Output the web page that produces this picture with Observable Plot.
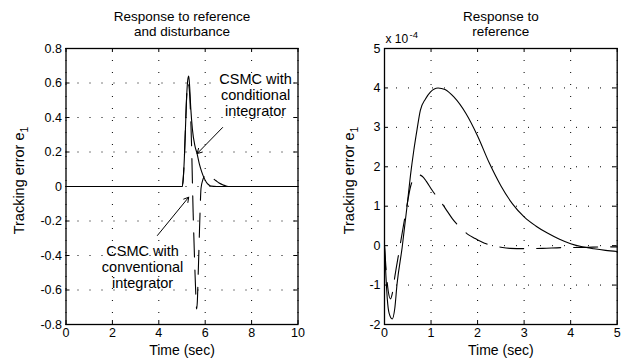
<!DOCTYPE html>
<html><head><meta charset="utf-8">
<script src="https://cdn.jsdelivr.net/npm/d3@7"></script>
<script src="https://cdn.jsdelivr.net/npm/@observablehq/plot@0.6"></script>
<style>
body{margin:0;background:#fff;}
#wrap{display:flex;width:621px;height:358px;overflow:hidden;}
svg{display:block;flex:none;}
</style></head><body><div id="wrap"></div>
<script>
const FONT = "'Liberation Sans', Arial, Helvetica, sans-serif";

// ---------- Left panel: response to reference and disturbance ----------
const leftTitle = "Response to reference\nand disturbance";
const leftXTicks = [0, 2, 4, 6, 8, 10];
const leftYTicks = [-0.8, -0.6, -0.4, -0.2, 0, 0.2, 0.4, 0.6, 0.8];
const leftYTickLabels = ["-0.8", "-0.6", "-0.4", "-0.2", "0", "0.2", "0.4", "0.6", "0.8"];
// CSMC with conditional integrator (solid)
const leftTimeCond = [0, 5.0, 5.05, 5.1, 5.15, 5.2, 5.25, 5.29, 5.33, 5.38, 5.45, 5.55, 5.65, 5.75, 5.85, 5.95, 6.05, 6.15, 6.25, 6.5, 10];
const leftErrCond  = [0, 0, 0.04, 0.16, 0.34, 0.52, 0.62, 0.64, 0.58, 0.45, 0.33, 0.24, 0.19, 0.13, 0.085, 0.05, 0.025, 0.01, 0.002, 0, 0];
// CSMC with conventional integrator (dashed)
const leftTimeConv = [0, 5.0, 5.05, 5.1, 5.15, 5.2, 5.25, 5.3, 5.36, 5.42, 5.45, 5.48, 5.52, 5.56, 5.6, 5.63, 5.66, 5.7, 5.74, 5.78, 5.82, 5.9, 6.0, 6.1, 6.2, 6.3, 6.4, 6.5, 6.6, 6.8, 7.0, 10];
const leftErrConv  = [0, 0, 0.04, 0.16, 0.34, 0.52, 0.6, 0.58, 0.45, 0.2, 0.02, -0.15, -0.33, -0.5, -0.64, -0.71, -0.67, -0.5, -0.32, -0.14, -0.01, 0.04, 0.065, 0.072, 0.065, 0.052, 0.04, 0.03, 0.02, 0.008, 0, 0];
// annotations (data units)
const annotCondText = "CSMC with\nconditional\nintegrator";
const annotCondPos = [8.17, 0.409];
const annotConvText = "CSMC with\nconventional\nintegrator";
const annotConvPos = [3.3, -0.588];
const arrowCond = [6.75, 0.342, 5.655, 0.191];
const arrowConv = [3.94, -0.284, 5.29, -0.062];

// ---------- Right panel: response to reference (x 10^-4) ----------
const rightTitle = "Response to\nreference";
const rightXTicks = [0, 1, 2, 3, 4, 5];
const rightYTicks = [-2, -1, 0, 1, 2, 3, 4, 5];
const rightYTickLabels = ["-2", "-1", "0", "1", "2", "3", "4", "5"];
const rightExponentBase = "x 10";
const rightExponent = "-4";
const rightTimeSolid = [0, 0.03, 0.06, 0.1, 0.165, 0.22, 0.27, 0.38, 0.49, 0.56, 0.63, 0.7, 0.77, 0.88, 0.99, 1.15, 1.3, 1.49, 1.75, 2.0, 2.25, 2.5, 2.75, 3.0, 3.25, 3.5, 3.75, 4.0, 4.25, 4.5, 4.75, 5.0];
const rightErrSolid  = [0, -0.75, -1.35, -1.72, -1.86, -1.6, -0.97, -0.04, 1.06, 1.8, 2.42, 2.95, 3.43, 3.72, 3.9, 4.0, 3.96, 3.77, 3.35, 2.78, 2.1, 1.52, 1.06, 0.73, 0.5, 0.32, 0.17, 0.05, -0.03, -0.08, -0.12, -0.15];
const rightTimeDash = [0, 0.04, 0.08, 0.13, 0.17, 0.215, 0.3, 0.4, 0.48, 0.56, 0.64, 0.72, 0.81, 0.9, 1.02, 1.13, 1.24, 1.35, 1.46, 1.57, 1.67, 1.8, 1.95, 2.06, 2.2, 2.35, 2.5, 2.7, 3.0, 3.4, 3.8, 4.3, 4.7, 5.0];
const rightErrDash  = [0, -0.7, -1.15, -1.35, -1.2, -0.84, -0.24, 0.46, 1.0, 1.5, 1.72, 1.8, 1.76, 1.63, 1.41, 1.23, 1.06, 0.87, 0.68, 0.53, 0.41, 0.28, 0.18, 0.11, 0.04, 0.0, -0.04, -0.07, -0.075, -0.07, -0.05, -0.045, -0.03, -0.03];

const toRows = (ts, vs) => ts.map((t, i) => ({t, v: vs[i]}));

function panel(o) {
  const height = 358, mt = 48, mb = 34;
  const innerH = height - mt - mb;
  const innerW = o.width - o.ml - o.mr;
  const tk = 4;
  const black = "#000";
  const marks = [
    Plot.gridX(o.xTicks, {stroke: black, strokeOpacity: 1, strokeWidth: 1, strokeDasharray: "1,11"}),
    Plot.gridY(o.yTicks, {stroke: black, strokeOpacity: 1, strokeWidth: 1, strokeDasharray: "1,11"}),
    Plot.tickX(o.xTicks, {x: d => d, insetBottom: innerH - tk, stroke: black}),
    Plot.tickX(o.xTicks, {x: d => d, insetTop: innerH - tk, stroke: black}),
    Plot.tickY(o.yTicks, {y: d => d, insetRight: innerW - tk, stroke: black}),
    Plot.tickY(o.yTicks, {y: d => d, insetLeft: innerW - tk, stroke: black}),
    Plot.line(o.solid, {x: "t", y: "v", stroke: black, strokeWidth: 1.1, curve: "monotone-x"}),
    Plot.line(o.dashed, {x: "t", y: "v", stroke: black, strokeWidth: 1.1, curve: "monotone-x", strokeDasharray: "24,13"}),
    Plot.frame({stroke: black, strokeWidth: 1.3}),
    Plot.axisX(o.xTicks, {tickSize: 0, tickPadding: 4, label: null, fill: black, fontSize: 12.5, tickFormat: d => String(d)}),
    Plot.axisY(o.yTicks, {tickSize: 0, tickPadding: 4, label: null, fill: black, fontSize: 12.5, tickFormat: (d, i) => o.yLabels[i]}),
    Plot.text([o.title], {frameAnchor: "top", dy: -13, lineAnchor: "bottom", lineHeight: 1.11, fontSize: 13.5, fill: black}),
    Plot.text(["Time (sec)"], {frameAnchor: "bottom", dy: 30, lineAnchor: "bottom", fontSize: 14, fill: black}),
    Plot.text(["Tracking error e1"], {frameAnchor: "left", textAnchor: "middle", rotate: -90, dx: o.ylabDx, dy: -6, lineAnchor: "bottom", fontSize: 14.5, fill: black}),
    ...o.extra
  ];
  const svg = Plot.plot({
    width: o.width, height, marginLeft: o.ml, marginRight: o.mr, marginTop: mt, marginBottom: mb,
    style: {fontFamily: FONT, fontSize: "12.5px", color: "#000", background: "#fff", overflow: "visible"},
    x: {domain: o.xDomain},
    y: {domain: o.yDomain},
    marks
  });
  d3.select(svg).selectAll("text").filter(function () { return this.textContent === "Tracking error e1"; })
    .each(function () {
      const t = d3.select(this);
      t.text(null);
      t.append("tspan").text("Tracking error e");
      t.append("tspan").attr("font-size", 10.5).attr("dy", 4).text("1");
    });
  return svg;
}

const left = panel({
  width: 310, ml: 65.5, mr: 12.5,
  xDomain: [0, 10], yDomain: [-0.8, 0.8],
  xTicks: leftXTicks, yTicks: leftYTicks, yLabels: leftYTickLabels,
  solid: toRows(leftTimeCond, leftErrCond),
  dashed: toRows(leftTimeConv, leftErrConv),
  title: leftTitle, ylabDx: -42.5,
  extra: [
    Plot.text([annotCondText], {x: annotCondPos[0], y: annotCondPos[1], lineAnchor: "bottom", lineHeight: 1.1, fontSize: 14.5, fill: "#000"}),
    Plot.text([annotConvText], {x: annotConvPos[0], y: annotConvPos[1], lineAnchor: "bottom", lineHeight: 1.1, fontSize: 14.5, fill: "#000"}),
    Plot.arrow([arrowCond, arrowConv], {x1: d => d[0], y1: d => d[1], x2: d => d[2], y2: d => d[3], stroke: "#000", strokeWidth: 1, headLength: 8})
  ]
});

const right = panel({
  width: 311, ml: 74, mr: 4.3,
  xDomain: [0, 5], yDomain: [-2, 5],
  xTicks: rightXTicks, yTicks: rightYTicks, yLabels: rightYTickLabels,
  solid: toRows(rightTimeSolid, rightErrSolid),
  dashed: toRows(rightTimeDash, rightErrDash),
  title: rightTitle, ylabDx: -31,
  extra: [
    Plot.text([rightExponentBase], {frameAnchor: "top-left", dx: 1, dy: -6, textAnchor: "start", lineAnchor: "bottom", fontSize: 12, fill: "#000"}),
    Plot.text([rightExponent], {frameAnchor: "top-left", dx: 25, dy: -11, textAnchor: "start", lineAnchor: "bottom", fontSize: 9.5, fill: "#000"})
  ]
});

document.getElementById("wrap").append(left, right);
</script></body></html>
